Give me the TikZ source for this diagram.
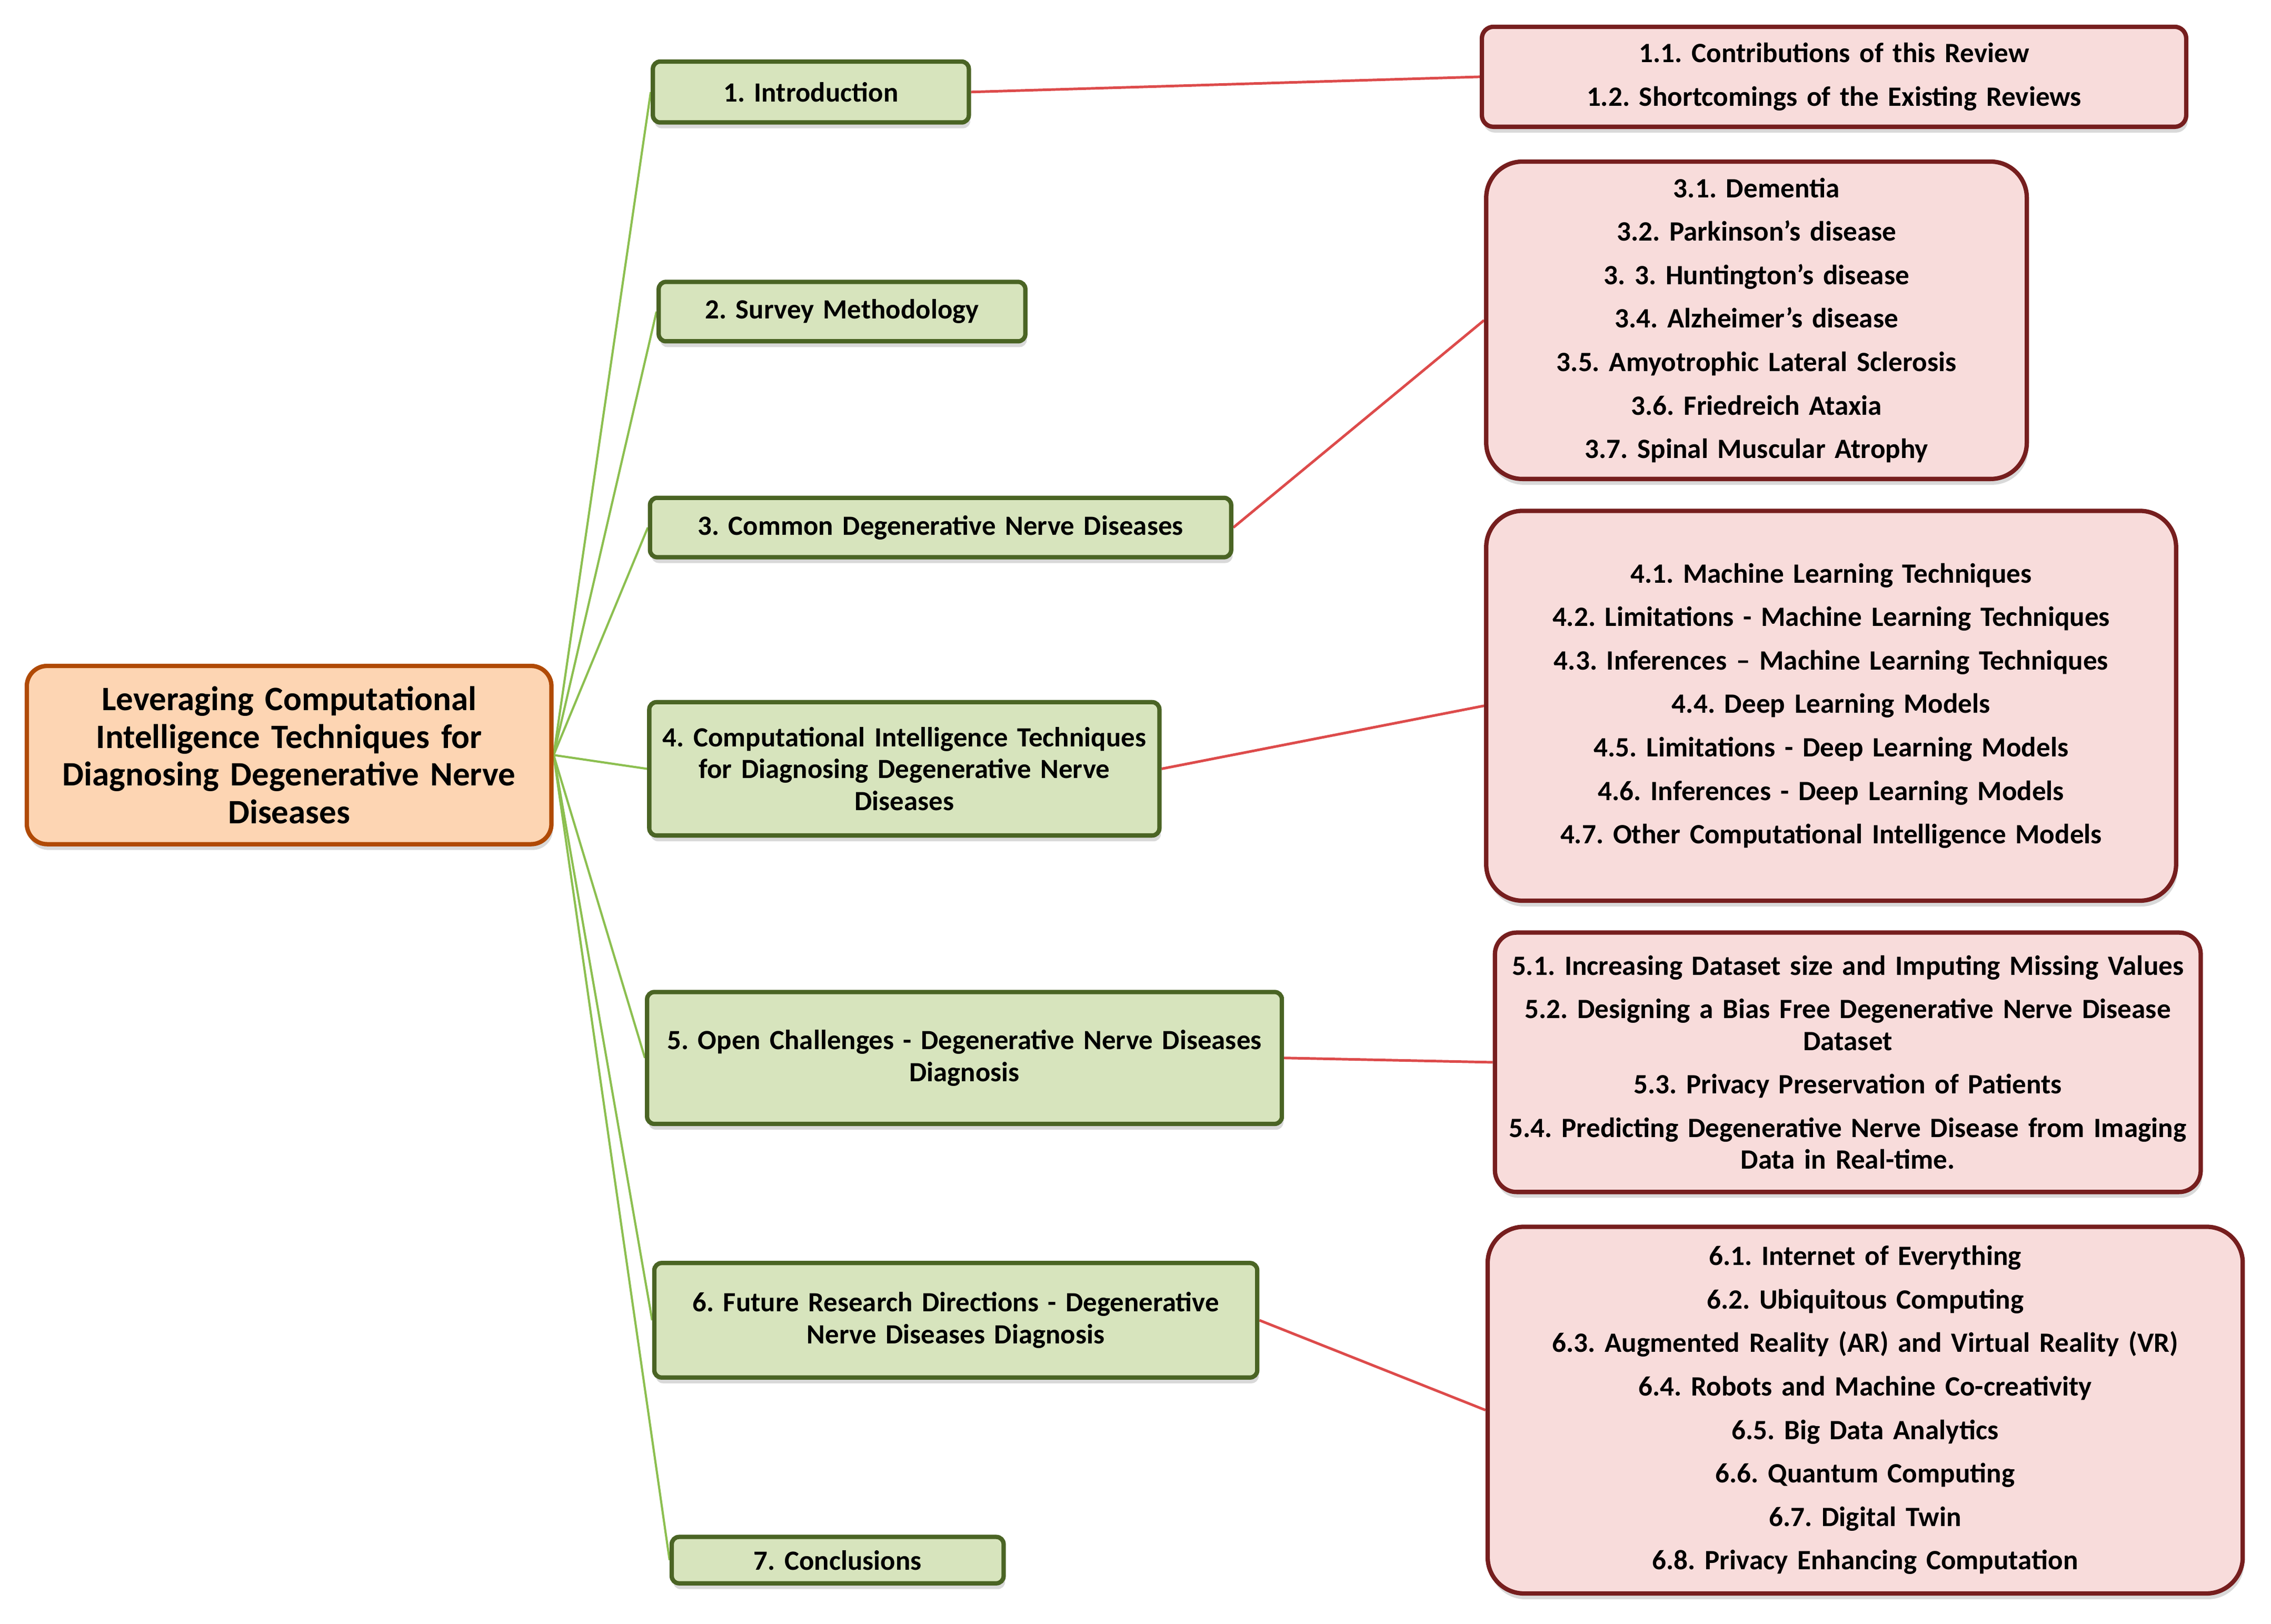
\documentclass[tikz,border=0pt]{standalone}
\usepackage{fontspec}
\setmainfont{Carlito}
\frenchspacing
\usetikzlibrary{shadows,backgrounds}

\definecolor{rootfill}{HTML}{FDD5B3}
\definecolor{rootline}{HTML}{B04A06}
\definecolor{secfill}{HTML}{D7E4BD}
\definecolor{secline}{HTML}{4A6424}
\definecolor{subfill}{HTML}{F8DCDB}
\definecolor{subline}{HTML}{761E1E}
\definecolor{glink}{HTML}{8CBF50}
\definecolor{rlink}{HTML}{DD4B4B}

\begin{document}
\begin{tikzpicture}[x=1pt,y=-1pt]
				\tikzstyle{box}=[rectangle, line width=3pt, inner sep=0pt, align=center,
				  drop shadow={opacity=0.3, shadow xshift=1pt, shadow yshift=-4pt}]
				\tikzstyle{r}=[box, fill=rootfill, draw=rootline, rounded corners=14pt,
				  font={\fontsize{23.6}{26}\selectfont\bfseries}]
				\tikzstyle{g}=[box, fill=secfill, draw=secline, rounded corners=5pt,
				  font={\fontsize{19.2}{22}\selectfont\bfseries}]
				\tikzstyle{p}=[box, fill=subfill, draw=subline,
				  font={\fontsize{19.3}{22}\selectfont\bfseries}]
				\tikzstyle{gl}=[glink, line width=1.5pt]
				\tikzstyle{rl}=[rlink, line width=1.8pt]

				\useasboundingbox (0,0) rectangle (1567,1120.3);

				\node[r, minimum width=362pt, minimum height=123pt, text width=356pt] (root) at (199.5,521)
				  {Leveraging Computational\\Intelligence Techniques for\\Diagnosing Degenerative Nerve\\Diseases};

				\node[g, minimum width=218pt, minimum height=42pt, text width=212pt] (g1) at (559.5,63.5) {1. Introduction};
				\node[g, minimum width=253pt, minimum height=41pt, text width=247pt] (g2) at (581,215) {2. Survey Methodology};
				\node[g, minimum width=401pt, minimum height=41pt, text width=395pt] (g3) at (649,364) {3. Common Degenerative Nerve Diseases};
				\node[g, minimum width=345pt, minimum height=92pt, text width=352pt] (g4) at (624,530.5)
				  {4. Computational Intelligence Techniques\\for Diagnosing Degenerative Nerve\\Diseases};
				\node[g, minimum width=438pt, minimum height=91pt, text width=432pt] (g5) at (665.5,730)
				  {5. Open Challenges - Degenerative Nerve Diseases\\Diagnosis};
				\node[g, minimum width=416pt, minimum height=79pt, text width=410pt] (g6) at (659.5,911)
				  {6. Future Research Directions - Degenerative\\Nerve Diseases Diagnosis};
				\node[g, minimum width=229pt, minimum height=32pt, text width=223pt] (g7) at (578,1076.5) {7. Conclusions};

				\node[p, rounded corners=8pt, minimum width=486pt, minimum height=69pt, text width=480pt] (d1) at (1265.5,53)
				  {1.1. Contributions of this Review\\[8pt]
				   1.2. Shortcomings of the Existing Reviews};
				\node[p, rounded corners=25pt, minimum width=373pt, minimum height=219pt, text width=367pt] (d3) at (1212,221)
				  {3.1. Dementia\\[8pt]
				   3.2. Parkinson’s disease\\[8pt]
				   3. 3. Huntington’s disease\\[8pt]
				   3.4. Alzheimer’s disease\\[8pt]
				   3.5. Amyotrophic Lateral Sclerosis\\[8pt]
				   3.6. Friedreich Ataxia\\[8pt]
				   3.7. Spinal Muscular Atrophy};
				\node[p, rounded corners=25pt, minimum width=476pt, minimum height=269pt, text width=470pt] (d4) at (1263.5,487)
				  {4.1. Machine Learning Techniques\\[8pt]
				   4.2. Limitations - Machine Learning Techniques\\[8pt]
				   4.3. Inferences – Machine Learning Techniques\\[8pt]
				   4.4. Deep Learning Models\\[8pt]
				   4.5. Limitations - Deep Learning Models\\[8pt]
				   4.6. Inferences - Deep Learning Models\\[8pt]
				   4.7. Other Computational Intelligence Models};
				\node[p, rounded corners=15pt, minimum width=487pt, minimum height=179pt, text width=485pt] (d5) at (1275,733)
				  {5.1. Increasing Dataset size and Imputing Missing Values\\[8pt]
				   5.2. Designing a Bias Free Degenerative Nerve Disease\\Dataset\\[8pt]
				   5.3. Privacy Preservation of Patients\\[8pt]
				   5.4. Predicting Degenerative Nerve Disease from Imaging\\Data in Real-time.};
				\node[p, rounded corners=25pt, minimum width=521pt, minimum height=253pt, text width=515pt] (d6) at (1287,973)
				  {6.1. Internet of Everything\\[8pt]
				   6.2. Ubiquitous Computing\\[8pt]
				   6.3. Augmented Reality (AR) and Virtual Reality (VR)\\[8pt]
				   6.4. Robots and Machine Co-creativity\\[8pt]
				   6.5. Big Data Analytics\\[8pt]
				   6.6. Quantum Computing\\[8pt]
				   6.7. Digital Twin\\[8pt]
				   6.8. Privacy Enhancing Computation};

				\begin{scope}[on background layer]
				\foreach \to in {g1,g2,g3,g4,g5,g6,g7}
				\draw [gl] (root.east) -- (\to.west);
				\foreach \from/\to in {g1/d1,g3/d3,g4/d4,g5/d5,g6/d6}
				\draw [rl] (\from.east) -- (\to.west);
				\end{scope}
			\end{tikzpicture}
\end{document}
